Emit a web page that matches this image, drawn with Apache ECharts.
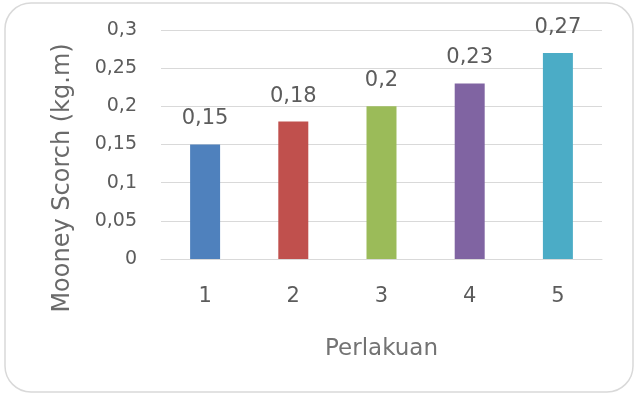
<!DOCTYPE html>
<html>
<head>
<meta charset="utf-8">
<script src="https://cdn.jsdelivr.net/npm/echarts@6/dist/echarts.min.js"></script>
<style>html,body{margin:0;padding:0;background:#fff}#c{width:641px;height:408px}</style>
</head>
<body>
<div id="c"></div>
<script>
var categories = ['1', '2', '3', '4', '5'];
var values = [0.15, 0.18, 0.2, 0.23, 0.27];
var colors = ['#4f81bd', '#c0504d', '#9bbb59', '#8064a2', '#4bacc6'];
var yTitle = 'Mooney Scorch (kg.m)';
var xTitle = 'Perlakuan';

function comma(v) { return String(v).replace('.', ','); }

var FONT = 'DejaVu Sans';
var chart = echarts.init(document.getElementById('c'));
chart.setOption({
  animation: false,
  textStyle: { fontFamily: FONT },
  graphic: [
    { type: 'rect', shape: { x: 5, y: 3, width: 628, height: 389, r: 26 },
      style: { fill: 'none', stroke: '#d9d9d9', lineWidth: 1.5 }, z: -1 },
    { type: 'text', x: 63, y: 178, rotation: Math.PI / 2,
      style: { text: yTitle, font: '24px "DejaVu Sans"', fill: '#6a6a6a', align: 'center', verticalAlign: 'middle' } }
  ],
  grid: { left: 161, right: 39, top: 30, bottom: 149 },
  xAxis: {
    type: 'category', data: categories,
    axisLine: { show: true, lineStyle: { color: '#d9d9d9' } },
    axisTick: { show: false },
    axisLabel: { color: '#5c5c5c', fontSize: 21, margin: 27 },
    name: xTitle, nameLocation: 'middle', nameGap: 79,
    nameTextStyle: { color: '#737373', fontSize: 23 }
  },
  yAxis: {
    type: 'value', min: 0, max: 0.3, interval: 0.05,
    axisLine: { show: false }, axisTick: { show: false },
    splitLine: { lineStyle: { color: '#d9d9d9' } },
    axisLabel: { color: '#5c5c5c', fontSize: 19, margin: 24, formatter: function (v) { return comma(+v.toFixed(2)); } }
  },
  series: [{
    type: 'bar',
    barWidth: '34%',
    data: values.map(function (v, i) { return { value: v, itemStyle: { color: colors[i] } }; }),
    label: { show: true, position: 'top', distance: 15, color: '#5c5c5c', fontSize: 21,
      formatter: function (p) { return comma(p.value); } }
  }]
});
</script>
</body>
</html>
